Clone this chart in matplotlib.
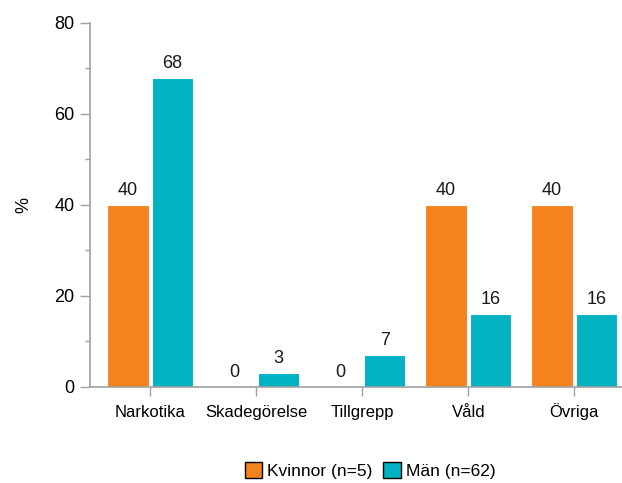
import matplotlib
matplotlib.use("Agg")
import matplotlib.pyplot as plt
import numpy as np
from matplotlib.patches import Patch

categories = ["Narkotika", "Skadegörelse", "Tillgrepp", "Våld", "Övriga"]
kvinnor = [40, 0, 0, 40, 40]
man = [68, 3, 7, 16, 16]
series_labels = ["Kvinnor (n=5)", "Män (n=62)"]

orange = "#F4831F"
teal = "#00B2C2"
axis_grey = "#A0A0A0"

plt.rcParams["font.family"] = ["Liberation Sans", "DejaVu Sans"]

fig = plt.figure(figsize=(6.22, 4.83), dpi=100)
ax = fig.add_axes([0.1447, 0.1988, 0.8553, 0.7536])

x = np.arange(len(categories))
w = 0.39
off = 0.21
b1 = ax.bar(x - off, kvinnor, w, color=orange, edgecolor="white", linewidth=0.8)
b2 = ax.bar(x + off, man, w, color=teal, edgecolor="white", linewidth=0.8)

for bars, vals in ((b1, kvinnor), (b2, man)):
    for rect, v in zip(bars, vals):
        ax.text(rect.get_x() + rect.get_width() / 2, v + 1.3, f"{v}",
                ha="center", va="bottom", fontsize=13, color="#1a1a1a")

ax.set_xlim(-0.57, 4.45)
ax.set_ylim(0, 80)
ax.set_yticks([0, 20, 40, 60, 80])
ax.set_yticks([10, 30, 50, 70], minor=True)
ax.set_xticks(x)
ax.set_xticklabels(categories, fontsize=12, va="baseline")
ax.tick_params(axis="y", labelsize=13, length=7.2, width=1, color=axis_grey, pad=4)
ax.tick_params(axis="y", which="minor", length=3.6, width=1, color=axis_grey)
ax.tick_params(axis="x", length=6.5, width=1, color=axis_grey, pad=15)
for s in ("top", "right"):
    ax.spines[s].set_visible(False)
for s in ("left", "bottom"):
    ax.spines[s].set_color(axis_grey)
    ax.spines[s].set_linewidth(1.2)
ax.set_ylabel("%", fontsize=13, labelpad=16)

handles = [Patch(facecolor=orange, edgecolor="black", linewidth=1),
           Patch(facecolor=teal, edgecolor="black", linewidth=1)]
fig.legend(handles, series_labels, loc="center", bbox_to_anchor=(0.595, 0.026),
           ncol=2, frameon=False, fontsize=12.5, handlelength=1.0, handleheight=1.0,
           handletextpad=0.3, columnspacing=0.6)

fig.savefig("out.png", dpi=100)
